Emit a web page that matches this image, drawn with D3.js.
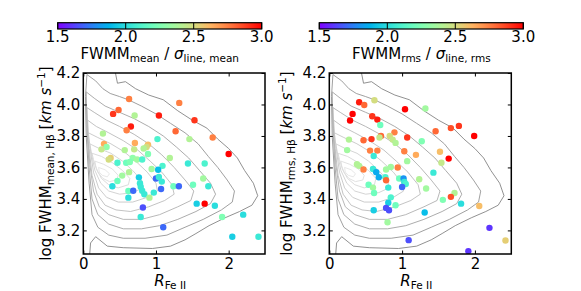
<!DOCTYPE html>
<html><head><meta charset="utf-8">
<script src="https://cdn.jsdelivr.net/npm/d3@7/dist/d3.min.js"></script>
<style>body{margin:0;background:#fff}svg text{font-family:"DejaVu Sans",sans-serif;fill:#000}</style>
</head><body><svg id="c" width="581" height="291"></svg>
<script>
// ---- data ----
const xTicks = [0, 1, 2];
const yTicks = [3.2, 3.4, 3.6, 3.8, 4.0, 4.2];
const cbTicks = [1.5, 2.0, 2.5, 3.0];
const xDomain = [0, 2.5];
const yDomain = [3.05, 4.2];
const cbDomain = [1.5, 3.0];

const meanR = [0.63,1.32,0.485,0.41,1.04,1.53,0.706,0.655,0.596,1.27,1.78,0.27,1.02,1.46,0.285,0.32,0.25,0.71,0.89,0.87,0.57,0.70,0.83,0.89,0.376,0.35,0.68,0.74,0.81,1.19,0.47,0.59,0.64,1.09,1.44,1.67,2.0,1.03,0.94,0.535,0.63,0.765,1.0,1.04,1.08,0.47,0.40,0.78,0.79,0.62,0.687,0.81,0.84,0.97,1.07,1.24,1.315,1.51,1.65,1.72,0.91,0.62,1.56,1.67,1.81,0.82,0.79,1.91,2.2,1.10,2.05,2.41];
const meanFWHM = [4.035,4.01,3.965,3.94,3.93,3.90,3.93,3.86,3.836,3.83,3.79,3.815,3.78,3.78,3.75,3.73,3.715,3.755,3.745,3.73,3.71,3.715,3.72,3.685,3.66,3.65,3.66,3.65,3.65,3.66,3.63,3.63,3.635,3.61,3.625,3.625,3.685,3.585,3.59,3.548,3.57,3.537,3.53,3.54,3.51,3.514,3.48,3.50,3.478,3.45,3.452,3.452,3.43,3.44,3.463,3.48,3.48,3.49,3.53,3.48,3.408,3.408,3.37,3.37,3.357,3.345,3.285,3.285,3.30,3.22,3.16,3.16];
const meanRatio = [2.75,2.75,2.8,2.9,2.95,2.9,2.4,2.95,2.75,2.8,2.75,2.4,2.1,2.4,2.65,2.3,2.45,2.65,2.6,2.5,2.4,2.45,2.4,2.25,2.55,2.5,2.3,2.35,2.1,2.4,2.1,2.2,2.25,2.1,2.05,2.1,3.0,1.9,2.35,2.35,2.4,1.95,1.7,2.05,2.05,2.2,2.0,2.05,2.05,2.2,1.7,2.05,2.05,2.05,1.7,2.2,1.7,2.2,2.35,2.05,2.4,2.0,1.95,3.0,2.0,1.65,2.05,2.25,2.0,1.7,1.95,2.05];

const rmsR = [0.62,0.41,0.48,1.04,1.32,0.32,0.59,0.66,0.285,0.70,1.78,1.67,1.46,1.99,0.895,0.71,0.58,0.47,0.27,0.69,0.83,0.87,0.91,1.07,1.27,0.245,0.56,0.66,1.03,0.61,1.19,1.52,1.64,1.54,1.07,0.38,0.41,0.47,0.60,0.78,0.845,0.94,0.645,0.68,0.77,0.96,1.02,1.235,1.43,0.78,1.03,1.05,0.54,0.60,0.615,0.81,1.0,1.33,0.845,0.81,0.91,1.56,1.72,1.67,1.81,2.06,0.61,0.78,0.82,1.31,0.80,2.20,1.09,2.42,1.91];
const rmsFWHM = [4.027,4.014,3.997,3.97,3.974,3.94,3.925,3.904,3.898,3.87,3.864,3.85,3.83,3.80,3.823,3.80,3.78,3.773,3.777,3.79,3.80,3.777,3.756,3.79,3.766,3.71,3.707,3.707,3.703,3.673,3.68,3.70,3.656,3.63,3.64,3.62,3.61,3.587,3.59,3.587,3.603,3.60,3.57,3.538,3.538,3.53,3.53,3.525,3.567,3.519,3.508,3.495,3.49,3.472,3.438,3.472,3.476,3.466,3.41,3.376,3.36,3.394,3.438,3.413,3.37,3.355,3.328,3.343,3.328,3.314,3.252,3.216,3.138,3.136,3.068];
const rmsRatio = [2.5,2.95,2.8,3.0,2.35,3.0,2.9,2.95,3.0,2.2,2.9,2.85,2.8,3.0,2.75,2.8,2.9,2.8,2.4,2.45,2.5,2.45,2.4,2.9,2.25,2.35,2.75,2.75,2.75,2.05,2.65,2.6,3.0,2.45,2.35,2.4,2.4,2.75,2.05,2.35,2.35,2.75,1.85,1.85,2.1,2.2,1.8,2.4,2.05,2.8,2.05,2.1,2.2,2.35,2.2,2.05,1.7,2.35,2.1,1.95,2.2,2.25,2.4,2.85,2.0,2.6,1.95,1.65,1.65,1.9,2.35,1.6,1.65,2.55,1.6];

// background sample density contours (outer -> inner), [R_FeII, log FWHM]
const bgContours = [
 [[0.40,4.30],[0.47,4.135],[0.58,4.145],[0.72,4.10],[0.90,4.06],[1.10,4.03],[1.30,3.96],[1.50,3.90],[1.70,3.85],[1.85,3.78],[2.0,3.72],[2.12,3.66],[2.22,3.58],[2.34,3.50],[2.40,3.42],[2.32,3.36],[2.15,3.32],[1.95,3.28],[1.73,3.23],[1.55,3.18],[1.40,3.14],[1.20,3.10],[0.95,3.085],[0.55,3.09],[0.33,3.10],[0.17,3.16],[0.10,3.12],[0.08,3.00],[-0.1,3.0],[-0.1,4.3]],
 [[0.05,4.19],[0.17,4.15],[0.27,4.10],[0.37,4.07],[0.50,4.05],[0.62,4.03],[0.80,3.99],[1.00,3.94],[1.20,3.88],[1.40,3.82],[1.58,3.75],[1.72,3.67],[1.85,3.60],[1.98,3.52],[2.08,3.45],[2.05,3.38],[1.90,3.33],[1.65,3.27],[1.40,3.22],[1.15,3.17],[0.85,3.15],[0.55,3.15],[0.35,3.17],[0.20,3.22],[0.12,3.30],[0.08,3.50],[0.04,3.80],[0.03,4.05]],
 [[0.04,4.08],[0.15,4.04],[0.30,3.99],[0.50,3.95],[0.70,3.91],[0.90,3.86],[1.10,3.80],[1.28,3.73],[1.45,3.66],[1.60,3.58],[1.75,3.50],[1.82,3.43],[1.75,3.37],[1.55,3.32],[1.30,3.27],[1.05,3.23],[0.80,3.21],[0.55,3.21],[0.35,3.24],[0.20,3.30],[0.12,3.40],[0.08,3.60],[0.05,3.85]],
 [[0.05,3.98],[0.15,3.95],[0.32,3.90],[0.50,3.86],[0.70,3.81],[0.90,3.75],[1.08,3.68],[1.25,3.60],[1.40,3.52],[1.52,3.45],[1.48,3.39],[1.30,3.35],[1.05,3.30],[0.80,3.27],[0.55,3.27],[0.35,3.30],[0.22,3.35],[0.14,3.45],[0.09,3.62],[0.06,3.82]],
 [[0.06,3.90],[0.18,3.86],[0.35,3.82],[0.55,3.77],[0.75,3.71],[0.92,3.64],[1.08,3.57],[1.22,3.49],[1.25,3.43],[1.12,3.39],[0.90,3.35],[0.65,3.32],[0.45,3.33],[0.30,3.36],[0.19,3.43],[0.12,3.55],[0.08,3.72]],
 [[0.07,3.82],[0.20,3.79],[0.38,3.75],[0.56,3.70],[0.72,3.64],[0.88,3.57],[1.00,3.50],[1.02,3.45],[0.88,3.41],[0.68,3.38],[0.48,3.38],[0.32,3.41],[0.21,3.47],[0.14,3.57],[0.10,3.70]],
 [[0.09,3.75],[0.22,3.72],[0.38,3.69],[0.54,3.64],[0.68,3.58],[0.80,3.52],[0.82,3.47],[0.68,3.44],[0.50,3.43],[0.35,3.45],[0.24,3.50],[0.16,3.58],[0.12,3.67]],
 [[0.12,3.69],[0.25,3.67],[0.40,3.63],[0.54,3.58],[0.64,3.53],[0.62,3.49],[0.48,3.47],[0.35,3.49],[0.25,3.53],[0.18,3.59],[0.14,3.65]],
 [[0.16,3.64],[0.28,3.62],[0.40,3.59],[0.48,3.55],[0.46,3.52],[0.36,3.51],[0.27,3.53],[0.20,3.57],[0.17,3.61]],
 [[0.21,3.60],[0.30,3.585],[0.36,3.56],[0.33,3.54],[0.26,3.55],[0.22,3.57]]
];
const contourGreys = ["#858585","#959595","#a3a3a3","#b0b0b0","#bcbcbc","#c6c6c6","#cfcfcf","#d7d7d7","#dedede","#e4e4e4"];

// ---- drawing ----
const svg = d3.select("#c");
const FS = 15;
const rainbow = t => {
  t = Math.max(0, Math.min(1, t));
  const r = Math.min(1, Math.abs(2*t - 0.5)), g = Math.sin(Math.PI*t), b = Math.cos(Math.PI*t/2);
  return d3.rgb(r*255, g*255, b*255).formatHex();
};
const color = d3.scaleSequential(rainbow).domain(cbDomain);

function rich(textSel, parts) {
  let cur = 0;
  parts.forEach(p => {
    const fs = (p.sub || p.sup) ? FS*0.7 : FS;
    const target = p.sub ? FS*0.22 : (p.sup ? -FS*0.38 : 0);
    const ts = textSel.append("tspan").text(p.t).attr("font-size", fs).attr("dy", target - cur);
    if (p.i) ts.attr("font-style", "italic");
    cur = target;
  });
}

const panels = [
  {x0:83.3, x1:265, y0:73, y1:254, cb:[57.7,261.7], R:meanR, F:meanFWHM, C:meanRatio,
   cbLabel:[{t:"FWMM"},{t:"mean",sub:1},{t:" / "},{t:"σ",i:1},{t:"line, mean",sub:1}],
   yLabel:[{t:"log FWHM"},{t:"mean, Hβ",sub:1},{t:" ["},{t:"km s",i:1},{t:"−1",sup:1},{t:"]"}], yLabX:51},
  {x0:329.3, x1:511.3, y0:73, y1:254, cb:[319.3,523.3], R:rmsR, F:rmsFWHM, C:rmsRatio,
   cbLabel:[{t:"FWMM"},{t:"rms",sub:1},{t:" / "},{t:"σ",i:1},{t:"line, rms",sub:1}],
   yLabel:[{t:"log FWHM"},{t:"rms, Hβ",sub:1},{t:" ["},{t:"km s",i:1},{t:"−1",sup:1},{t:"]"}], yLabX:292}
];

const defs = svg.append("defs");
const grad = defs.append("linearGradient").attr("id","rb").attr("x1","0%").attr("x2","100%");
d3.range(0, 1.0001, 0.05).forEach(t => grad.append("stop").attr("offset", (t*100)+"%").attr("stop-color", rainbow(t)));

panels.forEach((p, pi) => {
  const x = d3.scaleLinear().domain(xDomain).range([p.x0, p.x1]);
  const y = d3.scaleLinear().domain(yDomain).range([p.y1, p.y0]);
  const clipId = "clip" + pi;
  defs.append("clipPath").attr("id", clipId).append("rect")
    .attr("x", p.x0).attr("y", p.y0).attr("width", p.x1 - p.x0).attr("height", p.y1 - p.y0);

  const g = svg.append("g");
  const plot = g.append("g").attr("clip-path", `url(#${clipId})`);
  const line = d3.line().x(d => x(d[0])).y(d => y(d[1]));
  bgContours.forEach((c, i) => {
    plot.append("path").attr("d", line(c.concat([c[0]])))
      .attr("fill", "none").attr("stroke", contourGreys[i]).attr("stroke-width", 0.9);
  });
  const idx = d3.range(p.R.length);
  plot.selectAll("circle").data(idx).join("circle")
    .attr("cx", i => x(p.R[i])).attr("cy", i => y(p.F[i])).attr("r", 3.2)
    .attr("fill", i => color(p.C[i]));

  // axes with inward ticks
  const ax = [
    d3.axisBottom(x).tickValues(xTicks).tickFormat(d3.format("d")).tickSize(-3.5).tickPadding(4),
    d3.axisTop(x).tickValues(xTicks).tickFormat("").tickSize(-3.5),
    d3.axisLeft(y).tickValues(yTicks).tickFormat(d3.format(".1f")).tickSize(-3.5).tickPadding(3),
    d3.axisRight(y).tickValues(yTicks).tickFormat("").tickSize(-3.5)
  ];
  const tr = [`translate(0,${p.y1})`, `translate(0,${p.y0})`, `translate(${p.x0},0)`, `translate(${p.x1},0)`];
  ax.forEach((a, k) => {
    const ag = g.append("g").attr("transform", tr[k]).call(a);
    ag.select(".domain").remove();
    ag.selectAll(".tick line").attr("stroke", "#000").attr("stroke-width", 1);
    ag.selectAll("text").attr("font-size", FS).attr("fill", "#000").attr("font-family", "DejaVu Sans");
  });
  g.append("rect").attr("x", p.x0).attr("y", p.y0).attr("width", p.x1 - p.x0).attr("height", p.y1 - p.y0)
    .attr("fill", "none").attr("stroke", "#000").attr("stroke-width", 1.5);

  // x label
  const xl = g.append("text").attr("x", (p.x0 + p.x1)/2 - 4).attr("y", 285.5).attr("text-anchor", "middle");
  rich(xl, [{t:"R", i:1}, {t:"Fe II", sub:1}]);
  // y label
  const yl = g.append("text").attr("transform", `translate(${p.yLabX},${(p.y0+p.y1)/2}) rotate(-90)`).attr("text-anchor", "middle");
  rich(yl, p.yLabel);

  // colorbar
  const cx = d3.scaleLinear().domain(cbDomain).range(p.cb);
  const cy0 = 22.7, cy1 = 29;
  g.append("rect").attr("x", p.cb[0]).attr("y", cy0).attr("width", p.cb[1]-p.cb[0]).attr("height", cy1-cy0)
    .attr("fill", "url(#rb)").attr("stroke", "#000").attr("stroke-width", 1.2);
  cbTicks.forEach(t => {
    g.append("line").attr("x1", cx(t)).attr("x2", cx(t)).attr("y1", cy0).attr("y2", cy1)
      .attr("stroke", "#000").attr("stroke-width", 1);
    g.append("text").attr("x", cx(t)).attr("y", 41.5).attr("text-anchor", "middle").attr("font-size", FS)
      .text(d3.format(".1f")(t));
  });
  const cl = g.append("text").attr("x", (p.cb[0]+p.cb[1])/2).attr("y", 59).attr("text-anchor", "middle");
  rich(cl, p.cbLabel);
});
</script></body></html>
